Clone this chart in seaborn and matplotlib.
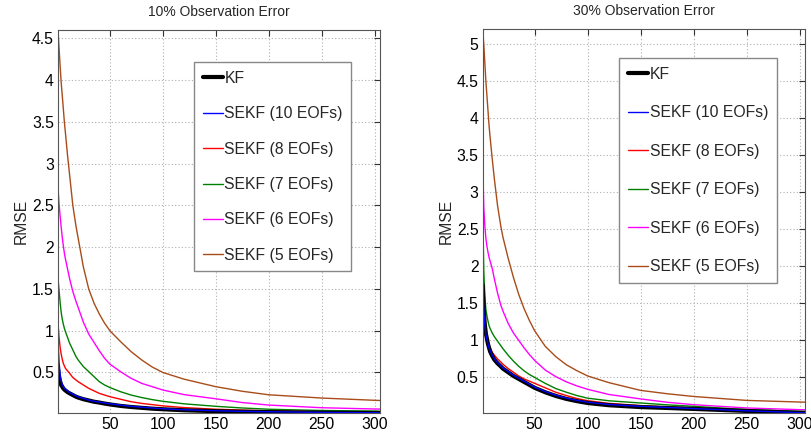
import matplotlib
matplotlib.use("Agg")
import matplotlib.pyplot as plt
import seaborn as sns
import pandas as pd
from matplotlib.ticker import FormatStrFormatter

# ---- data ----
steps = [1, 2, 3, 4, 5, 6, 7, 8, 10, 12, 15, 18, 20, 25, 30, 35, 40, 45, 50,
         60, 70, 80, 90, 100, 120, 150, 175, 200, 250, 300, 305]

series_names = ["KF", "SEKF (10 EOFs)", "SEKF (8 EOFs)", "SEKF (7 EOFs)",
                "SEKF (6 EOFs)", "SEKF (5 EOFs)"]

# 10% observation error
kf_10    = [0.54, 0.44, 0.39, 0.35, 0.33, 0.31, 0.295, 0.285, 0.265, 0.25, 0.23, 0.21, 0.20, 0.18, 0.165, 0.15, 0.14, 0.128, 0.118,
            0.10, 0.087, 0.077, 0.067, 0.06, 0.048, 0.037, 0.03, 0.026, 0.019, 0.015, 0.014]
ekf10_10 = [0.88, 0.62, 0.48, 0.40, 0.36, 0.33, 0.31, 0.30, 0.28, 0.26, 0.24, 0.22, 0.21, 0.19, 0.17, 0.155, 0.145, 0.135, 0.126,
            0.11, 0.095, 0.085, 0.075, 0.066, 0.054, 0.042, 0.035, 0.03, 0.022, 0.018, 0.017]
ekf8_10  = [1.09, 0.92, 0.80, 0.72, 0.66, 0.61, 0.58, 0.55, 0.52, 0.49, 0.44, 0.41, 0.39, 0.35, 0.31, 0.28, 0.25, 0.23, 0.21,
            0.18, 0.15, 0.13, 0.115, 0.10, 0.08, 0.06, 0.05, 0.04, 0.03, 0.022, 0.021]
ekf7_10  = [1.63, 1.48, 1.34, 1.22, 1.14, 1.08, 1.03, 0.99, 0.92, 0.85, 0.77, 0.69, 0.65, 0.57, 0.51, 0.45, 0.39, 0.35, 0.32,
            0.27, 0.23, 0.20, 0.175, 0.155, 0.125, 0.095, 0.075, 0.06, 0.045, 0.038, 0.037]
ekf6_10  = [2.71, 2.52, 2.37, 2.24, 2.12, 2.02, 1.93, 1.86, 1.74, 1.62, 1.47, 1.35, 1.28, 1.10, 0.96, 0.86, 0.76, 0.67, 0.60,
            0.51, 0.43, 0.37, 0.33, 0.29, 0.235, 0.185, 0.14, 0.11, 0.078, 0.063, 0.062]
ekf5_10  = [4.60, 4.38, 4.17, 3.97, 3.82, 3.66, 3.50, 3.37, 3.10, 2.86, 2.50, 2.25, 2.11, 1.76, 1.50, 1.33, 1.20, 1.09, 1.00,
            0.87, 0.75, 0.65, 0.565, 0.50, 0.42, 0.33, 0.275, 0.233, 0.194, 0.167, 0.165]

# 30% observation error
kf_30    = [1.75, 1.42, 1.21, 1.09, 1.02, 0.95, 0.90, 0.85, 0.79, 0.74, 0.69, 0.65, 0.62, 0.57, 0.52, 0.48, 0.44, 0.40, 0.36,
            0.30, 0.25, 0.21, 0.18, 0.155, 0.125, 0.10, 0.088, 0.075, 0.048, 0.022, 0.02]
ekf10_30 = [1.70, 1.40, 1.20, 1.08, 1.01, 0.95, 0.90, 0.86, 0.80, 0.75, 0.70, 0.66, 0.63, 0.58, 0.53, 0.49, 0.45, 0.41, 0.37,
            0.31, 0.26, 0.22, 0.19, 0.165, 0.135, 0.11, 0.095, 0.08, 0.05, 0.025, 0.024]
ekf8_30  = [2.00, 1.55, 1.30, 1.15, 1.06, 0.99, 0.94, 0.90, 0.84, 0.80, 0.75, 0.71, 0.68, 0.62, 0.57, 0.52, 0.48, 0.45, 0.42,
            0.36, 0.30, 0.255, 0.215, 0.186, 0.15, 0.12, 0.10, 0.088, 0.055, 0.03, 0.028]
ekf7_30  = [2.75, 1.95, 1.60, 1.42, 1.33, 1.26, 1.20, 1.16, 1.10, 1.05, 0.99, 0.93, 0.89, 0.80, 0.72, 0.65, 0.59, 0.54, 0.50,
            0.42, 0.35, 0.30, 0.255, 0.22, 0.185, 0.155, 0.13, 0.11, 0.065, 0.043, 0.042]
ekf6_30  = [3.40, 2.80, 2.55, 2.38, 2.27, 2.19, 2.12, 2.07, 1.97, 1.83, 1.64, 1.48, 1.40, 1.23, 1.10, 1.00, 0.90, 0.81, 0.73,
            0.60, 0.51, 0.44, 0.385, 0.34, 0.27, 0.21, 0.165, 0.132, 0.088, 0.065, 0.064]
ekf5_30  = [5.20, 5.00, 4.75, 4.50, 4.30, 4.10, 3.90, 3.74, 3.45, 3.18, 2.82, 2.55, 2.40, 2.11, 1.85, 1.62, 1.43, 1.27, 1.13,
            0.92, 0.78, 0.67, 0.59, 0.52, 0.43, 0.325, 0.28, 0.243, 0.19, 0.168, 0.166]

panel_titles = ["10% Observation Error", "30% Observation Error"]
yticks_10 = [0.5, 1, 1.5, 2, 2.5, 3, 3.5, 4, 4.5]
yticks_30 = [0.5, 1, 1.5, 2, 2.5, 3, 3.5, 4, 4.5, 5]
xticks = [50, 100, 150, 200, 250, 300]

colors = ["#000000", "#0000ff", "#ff0000", "#008000", "#ff00ff", "#a84c1a"]
widths = [3.0, 1.0, 1.0, 1.0, 1.0, 1.0]

sns.set_style("white")
plt.rcParams["font.family"] = ["Liberation Sans", "DejaVu Sans"]

fig = plt.figure(figsize=(8.12, 4.36), dpi=100)
ax1 = fig.add_axes([58 / 812, 23 / 436, 322 / 812, 383 / 436])
ax2 = fig.add_axes([482.7 / 812, 23 / 436, 322.3 / 812, 383.7 / 436])

panels = [
    (ax1, [kf_10, ekf10_10, ekf8_10, ekf7_10, ekf6_10, ekf5_10], yticks_10, (0.015, 4.6), (0.422, 0.916), 1.3),
    (ax2, [kf_30, ekf10_30, ekf8_30, ekf7_30, ekf6_30, ekf5_30], yticks_30, (0.02, 5.2), (0.423, 0.925), 1.5),
]

fs = 11.3
for i, (ax, vals, yt, ylim, anchor, lspace) in enumerate(panels):
    order = [5, 4, 3, 2, 0, 1]
    for k in order:
        df = pd.DataFrame({"step": steps, "rmse": vals[k]})
        sns.lineplot(data=df, x="step", y="rmse", ax=ax, color=colors[k],
                     linewidth=widths[k], label=series_names[k])
    ax.set_xlim(1, 305)
    ax.set_ylim(*ylim)
    ax.set_xticks(xticks)
    ax.set_yticks(yt)
    ax.yaxis.set_major_formatter(FormatStrFormatter("%g"))
    ax.grid(True, linestyle=(0, (1, 2)), color="#b0b0b0", linewidth=0.8)
    ax.tick_params(direction="in", length=4, width=0.8, top=True, right=True,
                   labelsize=fs, pad=3, colors="#333333", labelcolor="black")
    for sp in ax.spines.values():
        sp.set_visible(True)
        sp.set_color("#555555")
        sp.set_linewidth(0.8)
    ax.set_xlabel("")
    ax.set_ylabel("RMSE", fontsize=fs, labelpad=2)
    ax.set_title(panel_titles[i], fontsize=10, pad=10)
    handles, labels = ax.get_legend_handles_labels()
    hmap = dict(zip(labels, handles))
    leg = ax.legend([hmap[n] for n in series_names], series_names,
                    loc="upper left", bbox_to_anchor=anchor, fontsize=fs,
                    frameon=True, fancybox=False, shadow=False, framealpha=1,
                    edgecolor="#888888", borderpad=0.55, labelspacing=lspace,
                    handlelength=1.3, handletextpad=0.1, borderaxespad=0)
    leg.get_frame().set_linewidth(1.0)

fig.savefig("out.png", dpi=100)
